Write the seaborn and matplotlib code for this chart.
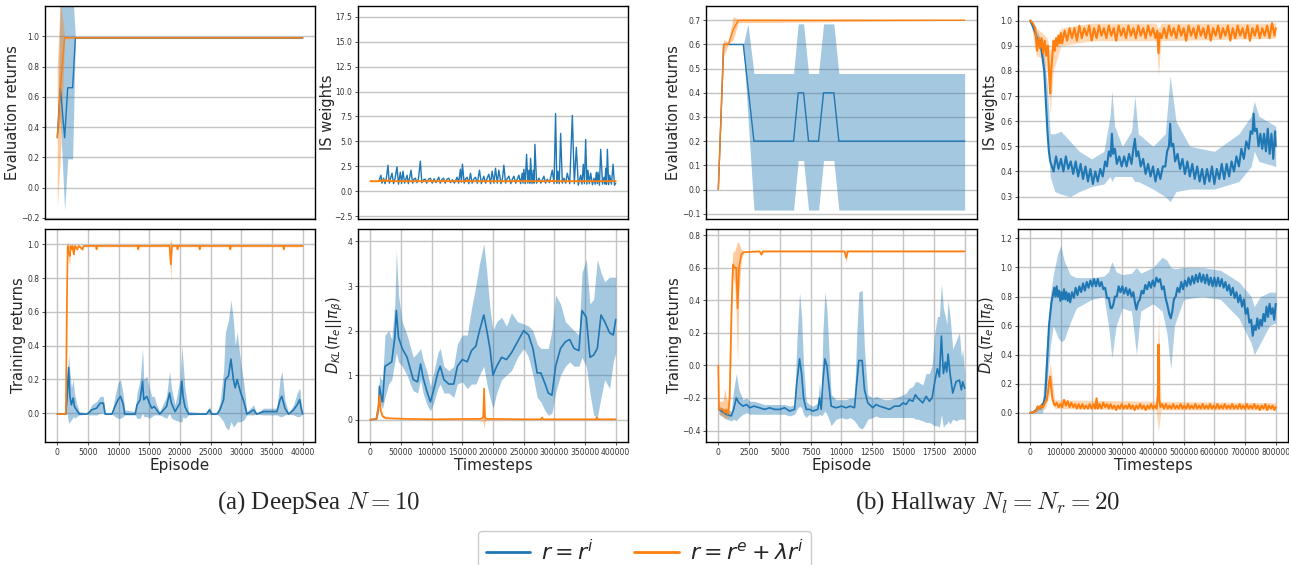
import matplotlib
matplotlib.use("Agg")
import matplotlib.pyplot as plt
from matplotlib.lines import Line2D
import seaborn as sns

# ---------------- data ----------------
# DeepSea evaluation returns: (episode, mean, lo, hi)
ds_eval_blue = [(0, 0.33, 0.33, 0.33), (500, 0.66, 0.45, 1.3), (1200, 0.33, -0.15, 1.3),
                (1700, 0.66, 0.19, 1.3), (2500, 0.66, 0.19, 1.3), (2950, 0.99, 0.985, 0.995),
                (40000, 0.99, 0.985, 0.995)]
ds_eval_orange = [(0, 0.33, -0.13, 0.8), (500, 0.66, 0.19, 1.25), (1200, 0.99, 0.985, 0.995),
                  (40000, 0.99, 0.985, 0.995)]

# DeepSea IS weights: (timestep, value)
ds_is_blue = [(14000, 1.0), (17400, 1.6), (19000, 0.8), (21800, 1.3), (24000, 0.75), (26000, 1.2),
              (28850, 2.6), (31000, 0.8), (33000, 1.25), (35400, 1.8), (38000, 0.75), (40500, 1.3),
              (43500, 2.45), (46000, 0.7), (49000, 1.9), (51000, 0.75), (53300, 2.0), (56000, 0.8),
              (59900, 1.6), (62000, 0.75), (64000, 1.3), (66400, 2.1), (69000, 0.8), (71000, 1.2),
              (73500, 1.3), (76000, 0.85), (78500, 1.25), (81600, 3.0), (84000, 0.85), (87000, 1.15),
              (89800, 1.2), (92000, 0.8), (95000, 1.2), (98000, 1.3), (101000, 0.8), (104000, 1.25),
              (107000, 0.85), (111600, 1.4), (114000, 0.8), (117000, 1.2), (119700, 1.3), (122000, 0.8),
              (125000, 1.2), (127900, 1.3), (131000, 0.85), (134000, 1.15), (137000, 0.8), (141500, 1.4),
              (144000, 0.8), (146900, 2.2), (148500, 0.9), (150200, 2.7), (153000, 0.8), (155500, 1.25),
              (157800, 1.4), (160500, 0.75), (163300, 1.8), (166000, 0.8), (168500, 1.2), (171400, 1.4),
              (174500, 0.8), (178000, 2.1), (181000, 0.75), (185000, 1.5), (188000, 0.8), (190500, 1.3),
              (193200, 1.7), (196000, 0.75), (198600, 2.0), (201500, 0.8), (204100, 2.3), (207000, 0.8),
              (209500, 2.1), (213000, 0.75), (215500, 1.3), (217700, 2.6), (220500, 0.8), (223000, 1.25),
              (225900, 1.5), (229000, 0.75), (231500, 1.2), (234000, 1.5), (237000, 0.8), (239500, 1.2),
              (242200, 1.6), (245000, 0.75), (247600, 1.8), (249000, 0.8), (250300, 2.2), (252500, 0.75),
              (254700, 3.7), (256800, 0.8), (258500, 2.1), (260000, 0.8), (261200, 3.3), (263500, 0.75),
              (265600, 2.1), (267000, 0.8), (268300, 4.7), (271000, 0.8), (274800, 1.3), (278000, 0.8),
              (283000, 1.5), (285500, 0.8), (288400, 1.2), (292000, 0.85), (296600, 2.1), (299500, 0.75),
              (302000, 7.8), (304000, 0.8), (305900, 2.0), (308000, 0.75), (310200, 5.8), (313000, 0.8),
              (315700, 1.3), (318500, 0.8), (321100, 1.8), (325000, 0.75), (329300, 7.6), (332500, 0.75),
              (335800, 4.4), (339000, 0.6), (342900, 1.6), (345000, 0.7), (347200, 2.7), (349000, 0.75),
              (351000, 5.2), (353000, 0.7), (354800, 2.1), (357000, 0.75), (359200, 1.8), (362000, 0.65),
              (364600, 1.3), (366500, 0.7), (368400, 1.9), (370000, 0.75), (371200, 1.9), (373500, 0.6),
              (375500, 4.2), (378500, 0.7), (381000, 1.4), (382500, 0.7), (383700, 2.3), (385000, 0.7),
              (386400, 4.2), (388500, 0.65), (390200, 1.6), (393000, 0.7), (395700, 2.7), (398000, 0.6),
              (400000, 0.8)]
ds_is_orange = [(0, 1.0), (14000, 1.0), (16000, 1.1), (18000, 1.0), (21000, 1.12), (23000, 1.0),
                (26000, 1.1), (28000, 1.0), (31000, 1.12), (33000, 1.0), (98000, 1.0), (99000, 1.1),
                (100000, 1.0), (119000, 1.0), (120000, 1.1), (121000, 1.0), (157000, 1.0), (158000, 1.12),
                (159000, 1.0), (297000, 1.0), (298000, 1.08), (299000, 1.0), (400000, 1.0)]

# Hallway evaluation returns: (episode, mean, lo, hi)
h_eval_blue = [(0, 0.0, 0.0, 0.0), (432, 0.6, 0.6, 0.6), (2027, 0.6, 0.6, 0.6), (2406, 0.425, 0.3, 0.685),
               (2892, 0.2, -0.085, 0.48), (6109, 0.2, -0.085, 0.48), (6487, 0.4, 0.12, 0.685),
               (6920, 0.4, 0.12, 0.685), (7325, 0.2, -0.085, 0.48), (8136, 0.2, -0.085, 0.48),
               (8541, 0.4, 0.12, 0.685), (9379, 0.4, 0.12, 0.685), (9785, 0.2, -0.085, 0.48),
               (20000, 0.2, -0.085, 0.48)]
h_eval_orange = [(0, 0.0, 0.0, 0.0), (432, 0.6, 0.55, 0.62), (811, 0.6, 0.6, 0.61), (1200, 0.66, 0.62, 0.715),
                 (1622, 0.7, 0.69, 0.705), (20000, 0.7, 0.7, 0.7)]

# Hallway IS weights: (timestep, value)
h_is_blue = [(0, 1.0), (10800, 0.97), (21700, 0.93), (27100, 0.9), (32500, 0.92), (38000, 0.87),
             (45500, 0.8), (52000, 0.65), (56400, 0.55), (60700, 0.48), (65000, 0.44), (70500, 0.42),
             (76000, 0.40), (84000, 0.46), (92000, 0.41), (100000, 0.45), (108000, 0.40), (116000, 0.46),
             (124000, 0.41), (132000, 0.44), (140000, 0.39), (148000, 0.44), (156000, 0.38), (164000, 0.43),
             (172000, 0.37), (180000, 0.42), (188000, 0.36), (196000, 0.41), (204000, 0.35), (212000, 0.40),
             (220000, 0.36), (228000, 0.41), (236000, 0.38), (244000, 0.44), (250000, 0.42), (256000, 0.48),
             (262000, 0.46), (266000, 0.55), (270000, 0.47), (276000, 0.49), (282000, 0.43), (290000, 0.46),
             (298000, 0.42), (306000, 0.46), (314000, 0.42), (322000, 0.47), (330000, 0.43), (336000, 0.49),
             (341000, 0.53), (346000, 0.46), (352000, 0.48), (360000, 0.42), (368000, 0.45), (376000, 0.39),
             (384000, 0.43), (392000, 0.38), (400000, 0.42), (408000, 0.36), (416000, 0.41), (424000, 0.37),
             (432000, 0.42), (440000, 0.42), (446000, 0.48), (452000, 0.50), (456000, 0.59), (460000, 0.50),
             (466000, 0.51), (472000, 0.44), (480000, 0.47), (488000, 0.41), (496000, 0.45), (504000, 0.39),
             (512000, 0.44), (520000, 0.38), (528000, 0.43), (536000, 0.37), (544000, 0.42), (552000, 0.36),
             (560000, 0.41), (568000, 0.35), (576000, 0.41), (584000, 0.36), (592000, 0.42), (600000, 0.35),
             (608000, 0.41), (616000, 0.37), (624000, 0.43), (632000, 0.37), (640000, 0.43), (648000, 0.38),
             (656000, 0.44), (664000, 0.40), (672000, 0.46), (680000, 0.42), (688000, 0.49), (696000, 0.45),
             (704000, 0.52), (712000, 0.49), (718000, 0.56), (724000, 0.55), (728000, 0.63), (732000, 0.56),
             (738000, 0.57), (744000, 0.50), (750000, 0.55), (756000, 0.49), (762000, 0.55), (768000, 0.48),
             (774000, 0.57), (780000, 0.47), (786000, 0.55), (792000, 0.45), (798000, 0.56), (800000, 0.50)]
# band of the blue IS weights: (timestep, lo, hi)
h_is_blue_band = [(0, 1.0, 1.0), (40000, 0.85, 0.92), (55000, 0.55, 0.75), (65000, 0.38, 0.55), (80000, 0.32, 0.55),
                  (100000, 0.31, 0.56), (130000, 0.30, 0.52), (160000, 0.32, 0.48), (200000, 0.34, 0.45),
                  (240000, 0.35, 0.48), (260000, 0.38, 0.62), (266000, 0.36, 0.72), (275000, 0.38, 0.58),
                  (300000, 0.38, 0.50), (330000, 0.38, 0.56), (341000, 0.36, 0.70), (352000, 0.36, 0.55),
                  (400000, 0.33, 0.50), (440000, 0.30, 0.55), (456000, 0.28, 0.78), (475000, 0.32, 0.60),
                  (520000, 0.33, 0.50), (600000, 0.33, 0.48), (680000, 0.36, 0.55), (720000, 0.42, 0.62),
                  (730000, 0.48, 0.68), (745000, 0.44, 0.62), (800000, 0.42, 0.58)]
h_is_orange = [(0, 1.0), (8000, 0.99), (16000, 0.97), (22000, 0.88), (27000, 0.93), (32000, 0.89), (37000, 0.93),
               (42000, 0.87), (47000, 0.92), (52000, 0.86), (57000, 0.9), (62000, 0.78), (65000, 0.71),
               (68000, 0.8), (72000, 0.86), (76000, 0.92), (80000, 0.88), (84000, 0.93), (88000, 0.9),
               (92000, 0.94), (96000, 0.91), (100000, 0.95), (104000, 0.91), (112000, 0.96), (120000, 0.92),
               (128000, 0.97), (136000, 0.93), (144000, 0.97), (152000, 0.92), (160000, 0.98), (168000, 0.93),
               (176000, 0.97), (184000, 0.94), (192000, 0.98), (200000, 0.92), (208000, 0.97), (216000, 0.93),
               (224000, 0.98), (232000, 0.94), (240000, 0.97), (248000, 0.93), (256000, 0.98), (264000, 0.94),
               (272000, 0.97), (280000, 0.92), (288000, 0.98), (296000, 0.94), (304000, 0.97), (312000, 0.93),
               (320000, 0.98), (328000, 0.94), (336000, 0.97), (344000, 0.93), (352000, 0.98), (360000, 0.94),
               (368000, 0.97), (376000, 0.93), (384000, 0.98), (392000, 0.94), (400000, 0.97), (408000, 0.93),
               (414000, 0.96), (418000, 0.87), (422000, 0.95), (428000, 0.93), (436000, 0.97), (444000, 0.93),
               (452000, 0.98), (460000, 0.94), (468000, 0.97), (476000, 0.93), (484000, 0.98), (492000, 0.94),
               (500000, 0.97), (508000, 0.92), (516000, 0.98), (524000, 0.94), (532000, 0.97), (540000, 0.93),
               (548000, 0.98), (556000, 0.94), (564000, 0.97), (572000, 0.93), (580000, 0.98), (588000, 0.92),
               (596000, 0.97), (604000, 0.94), (612000, 0.98), (620000, 0.93), (628000, 0.97), (636000, 0.94),
               (644000, 0.98), (652000, 0.92), (660000, 0.97), (668000, 0.93), (676000, 0.98), (684000, 0.94),
               (692000, 0.97), (700000, 0.93), (708000, 0.98), (716000, 0.92), (724000, 0.97), (732000, 0.94),
               (740000, 0.98), (748000, 0.93), (756000, 0.97), (764000, 0.94), (772000, 0.98), (780000, 0.93),
               (788000, 0.99), (796000, 0.94), (800000, 0.97)]
h_is_orange_band = [(0, 1.0, 1.0), (20000, 0.86, 0.97), (40000, 0.85, 0.95), (55000, 0.8, 0.93), (65000, 0.63, 0.88),
                    (75000, 0.8, 0.92), (100000, 0.9, 0.97), (200000, 0.92, 0.99), (410000, 0.92, 0.99),
                    (418000, 0.78, 0.97), (426000, 0.92, 0.99), (800000, 0.93, 0.99)]

# DeepSea training returns: (episode, mean, lo, hi)
ds_train_blue = [
    (0, -0.005, -0.005, -0.005), (1400, -0.005, -0.005, -0.005), (1600, 0.1, 0.0, 0.2), (1850, 0.27, -0.06, 0.35),
    (2050, 0.1, -0.05, 0.25), (2300, 0.05, -0.04, 0.15), (2600, 0.09, -0.02, 0.2), (2800, 0.04, -0.03, 0.12),
    (3150, 0.02, -0.02, 0.06), (3600, -0.005, -0.01, 0.01), (4800, -0.005, -0.005, 0.0), (5200, 0.005, -0.01, 0.02),
    (5600, 0.02, -0.01, 0.05), (6400, 0.03, -0.01, 0.07), (7000, 0.06, 0.0, 0.1), (7500, 0.06, 0.0, 0.1),
    (7800, -0.005, -0.005, 0.0), (8900, -0.005, -0.005, 0.0), (9400, 0.04, -0.02, 0.1), (9900, 0.08, -0.03, 0.18),
    (10300, 0.1, -0.03, 0.2), (10700, 0.06, -0.02, 0.12), (11000, -0.005, -0.01, 0.02), (12700, -0.005, -0.01, 0.01),
    (13000, 0.05, -0.03, 0.12), (13500, 0.08, -0.03, 0.2), (13900, 0.19, 0.0, 0.38), (14100, 0.08, -0.02, 0.2),
    (14600, 0.1, -0.02, 0.22), (15000, 0.06, -0.03, 0.15), (15400, 0.03, -0.02, 0.1), (15800, 0.04, -0.01, 0.1),
    (16200, 0.02, -0.01, 0.05), (16700, -0.005, -0.01, 0.01), (17800, 0.04, -0.03, 0.1), (18300, 0.12, 0.0, 0.25),
    (18600, 0.06, -0.03, 0.15), (19200, 0.01, -0.04, 0.05), (20000, 0.06, -0.05, 0.2), (20300, 0.19, -0.05, 0.4),
    (20500, 0.1, -0.02, 0.3), (20800, 0.04, -0.03, 0.15), (21400, -0.005, -0.01, 0.01), (24300, -0.005, -0.005, 0.0),
    (24800, 0.02, -0.01, 0.04), (25200, -0.005, -0.005, 0.0), (26000, -0.005, -0.005, 0.0), (26500, 0.02, -0.02, 0.06),
    (27100, 0.08, -0.05, 0.25), (27400, 0.2, -0.08, 0.48), (27900, 0.22, -0.1, 0.55), (28300, 0.32, -0.05, 0.67),
    (28700, 0.2, -0.08, 0.55), (29000, 0.15, -0.07, 0.4), (29300, 0.2, -0.05, 0.48), (29900, 0.12, -0.05, 0.3),
    (30400, 0.07, -0.04, 0.18), (30900, -0.005, -0.01, 0.01), (32000, 0.02, -0.01, 0.05), (32500, -0.005, -0.005, 0.0),
    (33600, 0.01, -0.01, 0.03), (34700, 0.01, -0.01, 0.03), (35800, 0.01, -0.01, 0.03), (36300, 0.08, -0.02, 0.2),
    (36600, 0.1, -0.02, 0.25), (37100, 0.03, -0.01, 0.08), (37700, -0.005, -0.005, 0.0), (38500, 0.02, -0.01, 0.05),
    (39100, 0.05, -0.02, 0.12), (39500, 0.08, -0.02, 0.15), (39800, 0.02, -0.01, 0.05), (40000, -0.005, -0.005, 0.0)]
ds_train_orange = [
    (0, -0.005, -0.005, -0.005), (1400, -0.005, -0.005, -0.005), (1550, 0.6, 0.4, 0.85), (1700, 0.99, 0.95, 1.02),
    (1850, 0.95, 0.9, 1.0), (2050, 0.93, 0.88, 0.99), (2200, 0.99, 0.985, 0.995), (2350, 0.97, 0.95, 0.99),
    (2500, 0.99, 0.985, 0.995), (2700, 0.94, 0.92, 0.98), (2900, 0.99, 0.985, 0.995), (3250, 0.97, 0.96, 0.985),
    (3500, 0.99, 0.985, 0.995), (4100, 0.97, 0.96, 0.985), (4300, 0.99, 0.985, 0.995), (6300, 0.99, 0.985, 0.995),
    (6400, 0.97, 0.96, 0.985), (6500, 0.99, 0.985, 0.995), (13100, 0.99, 0.985, 0.995), (13200, 0.97, 0.96, 0.985),
    (13300, 0.99, 0.985, 0.995), (18300, 0.99, 0.985, 1.0), (18500, 0.88, 0.77, 1.03), (18700, 0.99, 0.985, 1.0),
    (19500, 0.99, 0.985, 0.995), (19600, 0.97, 0.96, 0.985), (19700, 0.99, 0.985, 0.995), (23100, 0.99, 0.985, 0.995),
    (23200, 0.97, 0.96, 0.985), (23300, 0.99, 0.985, 0.995), (28100, 0.99, 0.985, 0.995), (28200, 0.97, 0.96, 0.985),
    (28300, 0.99, 0.985, 0.995), (36800, 0.99, 0.985, 0.995), (36900, 0.97, 0.96, 0.985), (37000, 0.99, 0.985, 0.995),
    (40000, 0.99, 0.985, 0.995)]

# DeepSea KL divergence: (timestep, mean, lo, hi)
ds_kl_blue = [
    (0, 0.0, 0.0, 0.0), (10000, 0.02, 0.0, 0.05), (13500, 0.3, 0.15, 0.5), (15000, 0.75, 0.4, 1.0),
    (18000, 0.5, 0.3, 0.9), (20000, 0.4, 0.25, 0.9), (24000, 1.2, 0.5, 1.9), (30000, 1.25, 0.8, 2.0),
    (35000, 1.3, 0.9, 1.8), (40000, 1.85, 1.3, 2.6), (42500, 2.45, 1.5, 3.8), (46000, 1.85, 1.3, 2.8),
    (52000, 1.6, 1.2, 2.2), (60000, 1.4, 1.0, 1.9), (65000, 1.15, 0.8, 1.65), (70000, 0.9, 0.65, 1.4),
    (77000, 0.85, 0.6, 1.5), (82000, 1.25, 0.9, 1.6), (86000, 0.95, 0.6, 1.35), (92000, 0.65, 0.35, 1.1),
    (98000, 0.4, 0.2, 0.75), (104000, 0.7, 0.4, 1.1), (110000, 1.05, 0.7, 1.5), (114000, 1.2, 0.8, 1.6),
    (120000, 0.9, 0.6, 1.2), (128000, 0.8, 0.6, 1.1), (136000, 0.8, 0.5, 1.2), (142000, 1.2, 0.8, 1.7),
    (150000, 1.35, 0.85, 1.9), (158000, 1.3, 0.7, 1.9), (165000, 1.55, 0.8, 2.5), (172000, 1.65, 0.8, 3.0),
    (178000, 2.0, 1.0, 3.5), (185000, 2.35, 1.2, 3.95), (190000, 2.0, 0.8, 3.3), (195000, 1.6, 0.5, 2.5),
    (200000, 1.0, 0.25, 2.0), (206000, 1.2, 0.6, 2.2), (214000, 1.4, 0.9, 2.3), (222000, 1.35, 1.0, 2.1),
    (230000, 1.5, 1.1, 2.4), (240000, 1.75, 1.4, 2.2), (250000, 2.0, 1.6, 2.15), (258000, 1.9, 1.4, 2.1),
    (265000, 1.6, 1.0, 2.0), (272000, 1.05, 0.5, 1.7), (278000, 1.05, 0.4, 1.6), (285000, 0.8, 0.2, 1.6),
    (290000, 0.6, 0.1, 1.6), (296000, 0.55, 0.15, 2.0), (302000, 1.2, 0.6, 2.8), (310000, 1.6, 1.0, 2.6),
    (318000, 1.75, 1.2, 2.2), (325000, 1.8, 1.3, 2.1), (332000, 1.6, 1.2, 2.0), (340000, 1.55, 1.2, 1.9),
    (345000, 2.45, 1.4, 3.3), (352000, 2.3, 1.2, 3.6), (358000, 1.4, 0.6, 2.6), (364000, 1.45, 0.1, 2.7),
    (370000, 1.6, 0.05, 3.6), (376000, 2.35, 0.5, 3.3), (382000, 2.2, 0.9, 3.1), (390000, 1.95, 0.7, 3.2),
    (396000, 1.9, 1.3, 3.2), (400000, 2.25, 1.5, 3.2)]
ds_kl_orange = [
    (0, 0.0, 0.0, 0.0), (10000, 0.02, 0.0, 0.04), (13000, 0.25, 0.15, 0.35), (15000, 0.55, 0.45, 0.6),
    (17000, 0.2, 0.12, 0.3), (20000, 0.08, 0.04, 0.12), (25000, 0.04, 0.02, 0.06), (35000, 0.03, 0.02, 0.04),
    (60000, 0.02, 0.01, 0.03), (100000, 0.01, 0.0, 0.02), (180000, 0.02, 0.0, 0.03), (184000, 0.05, -0.05, 0.15),
    (185500, 0.7, -0.2, 0.75), (187000, 0.03, -0.05, 0.1), (190000, 0.02, 0.0, 0.03), (250000, 0.01, 0.0, 0.02),
    (278000, 0.01, 0.0, 0.02), (280000, 0.05, 0.02, 0.06), (282000, 0.01, 0.0, 0.02), (368000, 0.01, 0.0, 0.02),
    (369000, 0.05, 0.02, 0.06), (371000, 0.01, 0.0, 0.02), (400000, 0.01, 0.0, 0.02)]

# Hallway training returns: (episode, mean, lo, hi)
h_train_blue = [
    (54, -0.27, -0.3, -0.25), (649, -0.3, -0.33, -0.27), (1054, -0.31, -0.34, -0.28), (1243, -0.27, -0.33, -0.15),
    (1460, -0.2, -0.34, -0.05), (1676, -0.23, -0.32, -0.15), (2000, -0.25, -0.3, -0.21), (2300, -0.24, -0.29, -0.2),
    (2541, -0.26, -0.3, -0.22), (2900, -0.25, -0.3, -0.22), (3352, -0.26, -0.3, -0.23), (3750, -0.27, -0.3, -0.24),
    (4163, -0.26, -0.3, -0.24), (4570, -0.27, -0.3, -0.24), (4974, -0.27, -0.3, -0.24), (5380, -0.26, -0.3, -0.24),
    (5784, -0.28, -0.31, -0.25), (6190, -0.27, -0.3, -0.24), (6379, -0.1, -0.27, 0.15), (6595, 0.04, -0.25, 0.45),
    (6758, -0.05, -0.26, 0.3), (6920, -0.2, -0.3, 0.0), (7136, -0.27, -0.32, -0.22), (7400, -0.27, -0.3, -0.24),
    (7677, -0.28, -0.31, -0.25), (8082, -0.27, -0.31, -0.23), (8217, -0.2, -0.3, -0.1), (8352, -0.27, -0.31, -0.22),
    (8487, -0.1, -0.3, 0.2), (8650, 0.04, -0.28, 0.45), (8812, 0.0, -0.3, 0.35), (8974, -0.12, -0.33, 0.1),
    (9163, -0.25, -0.37, -0.18), (9569, -0.26, -0.33, -0.21), (10000, -0.25, -0.32, -0.21), (10380, -0.26, -0.33, -0.21),
    (10700, -0.25, -0.32, -0.2), (11055, -0.26, -0.34, -0.2), (11244, -0.1, -0.36, 0.2), (11407, 0.03, -0.38, 0.45),
    (11677, 0.03, -0.39, 0.46), (11866, -0.15, -0.37, 0.1), (12136, -0.23, -0.33, -0.18), (12542, -0.26, -0.32, -0.2),
    (12800, -0.24, -0.31, -0.19), (13083, -0.25, -0.32, -0.2), (13500, -0.26, -0.32, -0.21), (13893, -0.27, -0.32, -0.21),
    (14300, -0.25, -0.32, -0.2), (14704, -0.25, -0.32, -0.19), (15000, -0.23, -0.32, -0.18), (15245, -0.24, -0.32, -0.17),
    (15500, -0.21, -0.32, -0.14), (15786, -0.22, -0.32, -0.13), (16000, -0.18, -0.33, -0.1), (16191, -0.2, -0.33, -0.1),
    (16596, -0.23, -0.34, -0.12), (16867, -0.19, -0.35, -0.05), (17137, -0.22, -0.35, -0.05), (17353, -0.2, -0.36, 0.0),
    (17570, -0.1, -0.37, 0.2), (17786, -0.02, -0.37, 0.3), (17948, -0.07, -0.38, 0.3), (18110, 0.18, -0.3, 0.5),
    (18272, -0.05, -0.38, 0.35), (18434, 0.02, -0.36, 0.3), (18543, -0.04, -0.36, 0.25), (18651, 0.07, -0.34, 0.4),
    (18813, -0.05, -0.36, 0.3), (19029, -0.17, -0.33, 0.1), (19300, -0.1, -0.34, 0.15), (19570, -0.09, -0.33, 0.2),
    (19732, -0.15, -0.33, 0.05), (19840, -0.1, -0.33, 0.1), (20000, -0.14, -0.33, -0.05)]
h_train_orange = [
    (0, 0.0, 0.0, 0.0), (54, -0.27, -0.3, -0.22), (378, -0.27, -0.31, -0.22), (514, -0.29, -0.33, -0.14),
    (649, -0.27, -0.31, -0.2), (784, -0.3, -0.33, -0.22), (919, -0.2, -0.3, 0.0), (1054, 0.3, 0.1, 0.55),
    (1189, 0.62, 0.55, 0.7), (1324, 0.6, 0.5, 0.7), (1460, 0.6, 0.3, 0.73), (1568, 0.35, 0.02, 0.76),
    (1676, 0.6, 0.45, 0.75), (1865, 0.68, 0.65, 0.71), (2054, 0.695, 0.69, 0.7), (3352, 0.7, 0.695, 0.705),
    (3487, 0.68, 0.67, 0.7), (3622, 0.7, 0.695, 0.705), (10244, 0.7, 0.695, 0.705), (10380, 0.66, 0.63, 0.71),
    (10515, 0.7, 0.695, 0.705), (20000, 0.7, 0.695, 0.705)]

# Hallway KL divergence: (timestep, value)
h_kl_blue = [(0, 0.0), (10000, 0.005), (20000, 0.02), (26000, 0.04), (32000, 0.03), (38000, 0.05), (44000, 0.07),
             (49000, 0.12), (53000, 0.28), (57000, 0.45), (61000, 0.6), (65000, 0.68), (69000, 0.76), (73000, 0.8),
             (78000, 0.86), (82000, 0.8), (86000, 0.87), (90000, 0.8), (94000, 0.84), (98000, 0.77), (102000, 0.83),
             (106000, 0.78), (110000, 0.85), (114000, 0.78), (118000, 0.83), (122000, 0.77), (126000, 0.82),
             (130000, 0.76), (136000, 0.83), (142000, 0.79), (148000, 0.86), (154000, 0.81), (160000, 0.87),
             (166000, 0.83), (172000, 0.89), (178000, 0.84), (184000, 0.9), (190000, 0.86), (196000, 0.91),
             (202000, 0.87), (208000, 0.92), (214000, 0.87), (220000, 0.92), (226000, 0.87), (232000, 0.9),
             (238000, 0.85), (244000, 0.86), (250000, 0.79), (256000, 0.79), (262000, 0.72), (266000, 0.72),
             (270000, 0.74), (276000, 0.8), (282000, 0.8), (288000, 0.87), (294000, 0.83), (300000, 0.87),
             (306000, 0.82), (312000, 0.86), (318000, 0.81), (324000, 0.85), (330000, 0.8), (336000, 0.83),
             (341000, 0.76), (346000, 0.71), (351000, 0.76), (357000, 0.78), (363000, 0.84), (369000, 0.82),
             (375000, 0.88), (381000, 0.85), (387000, 0.9), (393000, 0.86), (399000, 0.91), (405000, 0.87),
             (411000, 0.93), (417000, 0.9), (423000, 0.92), (429000, 0.85), (435000, 0.87), (441000, 0.79),
             (447000, 0.74), (453000, 0.68), (458000, 0.65), (463000, 0.7), (468000, 0.78), (474000, 0.8),
             (480000, 0.86), (486000, 0.83), (492000, 0.9), (498000, 0.85), (504000, 0.91), (510000, 0.87),
             (516000, 0.93), (522000, 0.88), (528000, 0.94), (534000, 0.89), (540000, 0.95), (546000, 0.9),
             (552000, 0.96), (558000, 0.9), (564000, 0.95), (570000, 0.89), (576000, 0.95), (582000, 0.88),
             (588000, 0.93), (594000, 0.87), (600000, 0.93), (606000, 0.87), (612000, 0.93), (618000, 0.87),
             (624000, 0.92), (630000, 0.86), (636000, 0.9), (642000, 0.84), (648000, 0.88), (654000, 0.81),
             (660000, 0.86), (666000, 0.79), (672000, 0.83), (678000, 0.76), (684000, 0.81), (690000, 0.73),
             (696000, 0.78), (702000, 0.68), (708000, 0.72), (714000, 0.62), (720000, 0.64), (725000, 0.53),
             (730000, 0.6), (735000, 0.57), (740000, 0.65), (745000, 0.58), (750000, 0.64), (755000, 0.6),
             (760000, 0.68), (765000, 0.63), (770000, 0.73), (775000, 0.66), (780000, 0.75), (785000, 0.68),
             (790000, 0.72), (795000, 0.64), (800000, 0.75)]
h_kl_blue_band = [(0, 0.0, 0.0), (40000, 0.0, 0.08), (55000, 0.2, 0.5), (65000, 0.45, 0.8), (75000, 0.6, 0.95),
                  (90000, 0.52, 1.1), (100000, 0.49, 1.15), (110000, 0.5, 1.05), (130000, 0.62, 0.95),
                  (150000, 0.72, 0.93), (200000, 0.78, 0.93), (240000, 0.8, 0.94), (255000, 0.6, 0.97),
                  (266000, 0.38, 1.04), (280000, 0.6, 0.97), (300000, 0.72, 0.95), (330000, 0.7, 0.96),
                  (346000, 0.4, 1.0), (360000, 0.7, 0.96), (400000, 0.75, 1.0), (430000, 0.7, 1.07),
                  (445000, 0.55, 1.05), (458000, 0.3, 1.0), (470000, 0.6, 0.99), (500000, 0.78, 1.0),
                  (560000, 0.8, 1.0), (620000, 0.78, 0.98), (680000, 0.65, 0.9), (720000, 0.48, 0.8),
                  (730000, 0.4, 0.73), (750000, 0.48, 0.8), (780000, 0.6, 0.83), (800000, 0.62, 0.83)]
h_kl_orange = [(0, 0.0), (10000, 0.005), (18000, 0.01), (24000, 0.045), (30000, 0.03), (36000, 0.05), (42000, 0.04),
               (48000, 0.07), (54000, 0.09), (58000, 0.15), (62000, 0.22), (65000, 0.25), (68000, 0.18),
               (72000, 0.1), (76000, 0.07), (80000, 0.05), (86000, 0.07), (92000, 0.04), (98000, 0.06),
               (104000, 0.04), (110000, 0.09), (116000, 0.05), (122000, 0.08), (128000, 0.04), (134000, 0.07),
               (140000, 0.04), (146000, 0.06), (152000, 0.03), (158000, 0.06), (164000, 0.03), (170000, 0.06),
               (176000, 0.03), (182000, 0.05), (188000, 0.03), (194000, 0.06), (200000, 0.03), (206000, 0.06),
               (212000, 0.03), (216000, 0.1), (220000, 0.03), (226000, 0.06), (232000, 0.03), (238000, 0.07),
               (244000, 0.04), (250000, 0.06), (256000, 0.03), (262000, 0.06), (268000, 0.03), (274000, 0.05),
               (280000, 0.02), (286000, 0.05), (292000, 0.03), (298000, 0.06), (304000, 0.03), (310000, 0.05),
               (316000, 0.03), (322000, 0.06), (328000, 0.03), (334000, 0.05), (340000, 0.02), (346000, 0.05),
               (352000, 0.03), (358000, 0.06), (364000, 0.03), (370000, 0.05), (376000, 0.02), (382000, 0.05),
               (388000, 0.03), (394000, 0.06), (400000, 0.03), (406000, 0.05), (412000, 0.03), (416000, 0.12),
               (418000, 0.47), (420000, 0.1), (424000, 0.04), (430000, 0.06), (436000, 0.03), (442000, 0.06),
               (448000, 0.03), (454000, 0.05), (460000, 0.03), (466000, 0.06), (472000, 0.03), (478000, 0.05),
               (484000, 0.03), (490000, 0.06), (496000, 0.03), (502000, 0.05), (508000, 0.03), (514000, 0.06),
               (520000, 0.03), (526000, 0.05), (532000, 0.03), (538000, 0.06), (544000, 0.03), (550000, 0.05),
               (556000, 0.03), (562000, 0.06), (568000, 0.03), (574000, 0.05), (580000, 0.03), (586000, 0.06),
               (592000, 0.03), (598000, 0.05), (604000, 0.03), (610000, 0.06), (616000, 0.03), (622000, 0.05),
               (628000, 0.03), (634000, 0.06), (640000, 0.03), (646000, 0.05), (652000, 0.03), (658000, 0.06),
               (664000, 0.03), (670000, 0.05), (676000, 0.03), (682000, 0.06), (688000, 0.03), (694000, 0.05),
               (700000, 0.03), (706000, 0.06), (712000, 0.03), (718000, 0.05), (724000, 0.03), (730000, 0.06),
               (736000, 0.03), (742000, 0.05), (748000, 0.02), (754000, 0.05), (760000, 0.03), (766000, 0.06),
               (772000, 0.02), (778000, 0.05), (784000, 0.03), (790000, 0.05), (796000, 0.02), (800000, 0.04)]
h_kl_orange_band = [(0, 0.0, 0.0), (50000, 0.03, 0.1), (65000, 0.15, 0.35), (80000, 0.03, 0.09),
                    (410000, 0.02, 0.08), (418000, -0.13, 0.7), (426000, 0.02, 0.08), (800000, 0.02, 0.07)]

# axis text
legend_labels = [r"$r = r^i$", r"$r = r^e + \lambda r^i$"]
captions = ["(a) DeepSea $N = 10$", "(b) Hallway $N_l = N_r = 20$"]
kl_label = r"$D_{KL}(\pi_e||\pi_\beta)$"

# ---------------- style ----------------
sns.set_style("whitegrid", {"axes.edgecolor": "black", "grid.color": "#c4c4c4",
                            "xtick.bottom": True, "ytick.left": True})
plt.rcParams["font.family"] = ["DejaVu Sans"]
BLUE, ORANGE = "#1f77b4", "#ff7f0e"


def cols(rows):
    return [list(c) for c in zip(*rows)]


def band(ax, rows, color, alpha=0.4):
    c = cols(rows)
    x, lo, hi = c[0], c[-2], c[-1]
    ax.fill_between(x, lo, hi, color=color, alpha=alpha, linewidth=0)


def line(ax, rows, color, lw=1.2):
    c = cols(rows)
    sns.lineplot(x=c[0], y=c[1], ax=ax, color=color, linewidth=lw, errorbar=None)


fig = plt.figure(figsize=(12.89, 5.65), dpi=100)
W, H = 1289, 565
colx = [(45, 315), (358, 628), (706, 977), (1018, 1288)]
rowy = [(6, 219), (229, 442)]
axes = [[None] * 4 for _ in range(2)]
for r, (t, b) in enumerate(rowy):
    for c, (l, rr) in enumerate(colx):
        axes[r][c] = fig.add_axes([l / W, 1 - b / H, (rr - l) / W, (b - t) / H])

# ---- top row ----
ax = axes[0][0]
band(ax, ds_eval_blue, BLUE); band(ax, ds_eval_orange, ORANGE)
line(ax, ds_eval_blue, BLUE, 1.0); line(ax, ds_eval_orange, ORANGE, 1.0)
ax.set_ylim(-0.207, 1.2); ax.set_yticks([-0.2, 0.0, 0.2, 0.4, 0.6, 0.8, 1.0])
ax.set_xlim(-2000, 42000); ax.set_ylabel("Evaluation returns")

ax = axes[0][1]
line(ax, ds_is_blue, BLUE, 1.0); line(ax, ds_is_orange, ORANGE, 1.4)
ax.set_ylim(-2.8, 18.6); ax.set_yticks([-2.5, 0.0, 2.5, 5.0, 7.5, 10.0, 12.5, 15.0, 17.5])
ax.set_xlim(-20000, 420000); ax.set_ylabel("IS weights")

ax = axes[0][2]
band(ax, h_eval_blue, BLUE); band(ax, h_eval_orange, ORANGE)
line(ax, h_eval_blue, BLUE, 1.0); line(ax, h_eval_orange, ORANGE, 1.0)
ax.set_ylim(-0.122, 0.759); ax.set_yticks([-0.1, 0.0, 0.1, 0.2, 0.3, 0.4, 0.5, 0.6, 0.7])
ax.set_xlim(-1000, 21000); ax.set_ylabel("Evaluation returns")

ax = axes[0][3]
band(ax, h_is_blue_band, BLUE, 0.35); band(ax, h_is_orange_band, ORANGE, 0.3)
line(ax, h_is_blue, BLUE, 1.5); line(ax, h_is_orange, ORANGE, 1.5)
ax.set_ylim(0.211, 1.058); ax.set_yticks([0.3, 0.4, 0.5, 0.6, 0.7, 0.8, 0.9, 1.0])
ax.set_xlim(-40000, 840000); ax.set_ylabel("IS weights")

for ax in axes[0]:
    ax.grid(False)
    ax.grid(axis="y", color="#c4c4c4", linewidth=1.0)
    ax.tick_params(axis="x", bottom=False, labelbottom=False)
    ax.set_xlabel("")

# ---- bottom row ----
ax = axes[1][0]
band(ax, ds_train_blue, BLUE); band(ax, ds_train_orange, ORANGE)
line(ax, ds_train_blue, BLUE, 1.2); line(ax, ds_train_orange, ORANGE, 1.2)
ax.set_ylim(-0.17, 1.09); ax.set_yticks([0.0, 0.2, 0.4, 0.6, 0.8, 1.0])
ax.set_xlim(-2000, 42000); ax.set_xticks(range(0, 40001, 5000))
ax.set_ylabel("Training returns"); ax.set_xlabel("Episode")

ax = axes[1][1]
band(ax, ds_kl_blue, BLUE); band(ax, ds_kl_orange, ORANGE)
line(ax, ds_kl_blue, BLUE, 1.2); line(ax, ds_kl_orange, ORANGE, 1.2)
ax.set_ylim(-0.5, 4.28); ax.set_yticks([0, 1, 2, 3, 4])
ax.set_xlim(-20000, 420000); ax.set_xticks(range(0, 400001, 50000))
ax.set_ylabel(kl_label); ax.set_xlabel("Timesteps")

ax = axes[1][2]
band(ax, h_train_blue, BLUE); band(ax, h_train_orange, ORANGE)
line(ax, h_train_blue, BLUE, 1.2); line(ax, h_train_orange, ORANGE, 1.2)
ax.set_ylim(-0.47, 0.837); ax.set_yticks([-0.4, -0.2, 0.0, 0.2, 0.4, 0.6, 0.8])
ax.set_xlim(-1000, 21000); ax.set_xticks(range(0, 20001, 2500))
ax.set_ylabel("Training returns"); ax.set_xlabel("Episode")

ax = axes[1][3]
band(ax, h_kl_blue_band, BLUE, 0.35); band(ax, h_kl_orange_band, ORANGE, 0.3)
line(ax, h_kl_blue, BLUE, 1.5); line(ax, h_kl_orange, ORANGE, 1.5)
ax.set_ylim(-0.2, 1.264); ax.set_yticks([0.0, 0.2, 0.4, 0.6, 0.8, 1.0, 1.2])
ax.set_xlim(-40000, 840000); ax.set_xticks(range(0, 800001, 100000))
ax.set_ylabel(kl_label); ax.set_xlabel("Timesteps")

for ax in axes[1]:
    ax.grid(True, color="#c4c4c4", linewidth=1.0)

# y-label positions (right edge of the rotated label, axes fraction), as in the reference
label_x = [[-0.093, -0.085, -0.092, -0.074], [-0.070, -0.048, -0.089, -0.074]]
for r, row in enumerate(axes):
    for c, ax in enumerate(row):
        ax.tick_params(labelsize=5.5, length=2.5, width=0.6, pad=1.5, colors="#333333")
        ax.yaxis.label.set_size(10.5)
        ax.xaxis.label.set_size(11)
        ax.xaxis.labelpad = 1
        ax.yaxis.set_label_coords(label_x[r][c], 0.5)
        for s in ax.spines.values():
            s.set_color("black"); s.set_linewidth(1.0); s.set_visible(True)

# captions
fig.text(319 / W, 1 - 503 / H, captions[0], ha="center", va="center", fontsize=18,
         family="Liberation Serif", math_fontfamily="cm")
fig.text(988 / W, 1 - 503 / H, captions[1], ha="center", va="center", fontsize=18,
         family="Liberation Serif", math_fontfamily="cm")

# legend
handles = [Line2D([], [], color=BLUE, lw=2), Line2D([], [], color=ORANGE, lw=2)]
fig.legend(handles, legend_labels, loc="upper center", bbox_to_anchor=(0.5, 1 - 531 / H), ncol=2,
           fontsize=16, frameon=True, handlelength=2.0, handletextpad=0.5, columnspacing=1.8,
           borderpad=0.35, borderaxespad=0.0, edgecolor="#cccccc", framealpha=1.0)

fig.savefig("out.png", dpi=100)
